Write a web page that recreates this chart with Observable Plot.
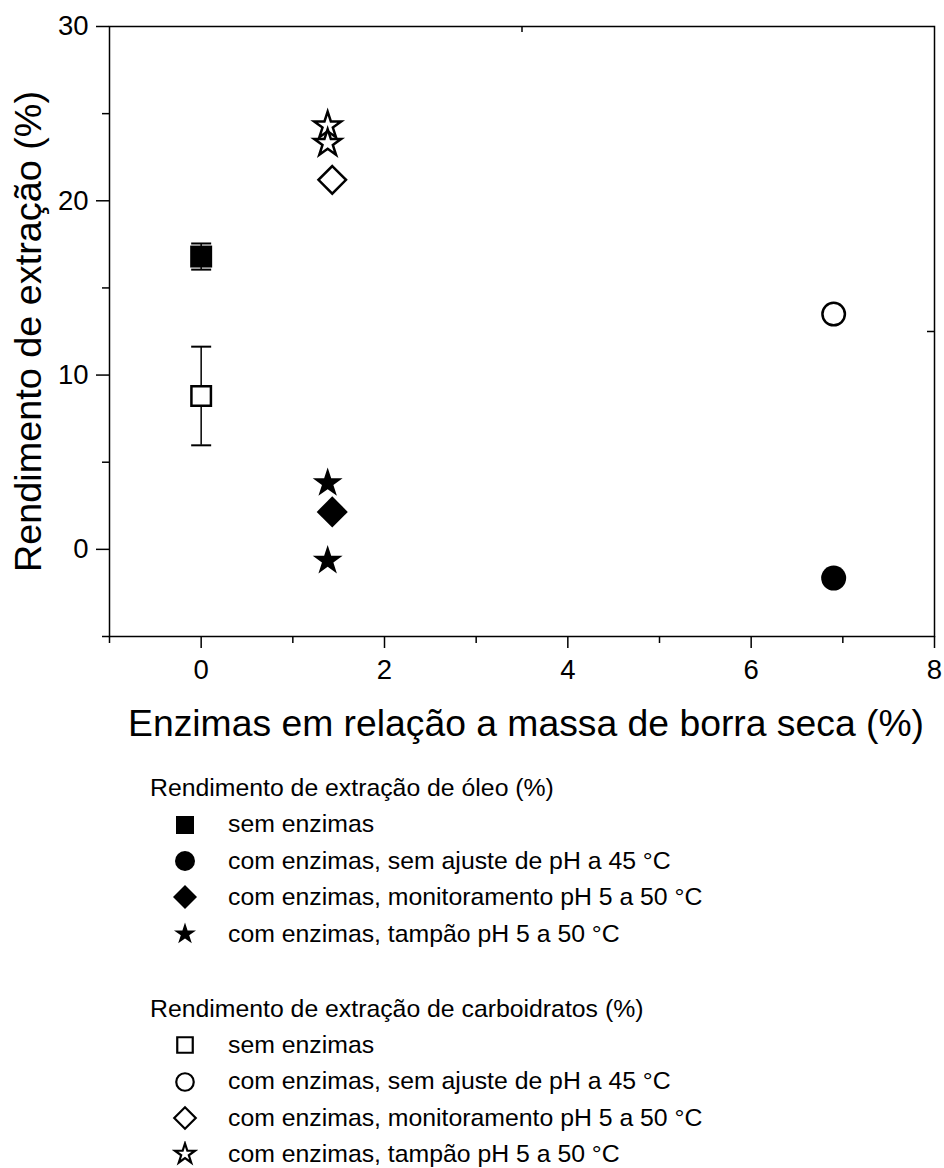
<!DOCTYPE html>
<html>
<head>
<meta charset="utf-8">
<script src="https://cdn.jsdelivr.net/npm/d3@7"></script>
<script src="https://cdn.jsdelivr.net/npm/@observablehq/plot@0.6"></script>
<style>
  body { margin: 0; background: #fff; font-family: "Liberation Sans", Arial, sans-serif; color: #000; }
  #legend { padding: 20px 0 0 150px; font-size: 24.8px; line-height: 36.4px; }
  #legend .group + .group { margin-top: 38.7px; }
  #legend .row { display: flex; align-items: center; height: 36.4px; white-space: nowrap; }
  #legend .row svg { margin-left: 22px; margin-right: 30px; flex: none; }
</style>
</head>
<body>
<div id="chart"></div>
<div id="legend"></div>
<script>
// Enzyme-assisted extraction yields versus enzyme load
const conditions = [
  "sem enzimas",
  "com enzimas, sem ajuste de pH a 45 °C",
  "com enzimas, monitoramento pH 5 a 50 °C",
  "com enzimas, tampão pH 5 a 50 °C"
];
const seriesTitles = [
  "Rendimento de extração de óleo (%)",
  "Rendimento de extração de carboidratos (%)"
];

// one entry per experiment
const enzymeLoad = [0, 6.9, 1.43, 1.38, 1.38];      // % of dry spent grounds
const conditionOf = [0, 1, 2, 3, 3];
const oilYield = [16.8, -1.65, 2.15, 3.8, -0.65];
const oilError = [0.75, 0, 0, 0, 0];
const carbYield = [8.8, 13.5, 21.2, 24.3, 23.3];
const carbError = [2.83, 0, 0, 0, 0];

// axes
const xTitle = "Enzimas em relação a massa de borra seca (%)";
const yTitle = "Rendimento de extração (%)";
const xMajorTicks = [0, 2, 4, 6, 8];
const xMinorTicks = [-1, 1, 3, 5, 7];
const yMajorTicks = [0, 10, 20, 30];
const yMinorTicks = [-5, 5, 15, 25];
const topTicks = [3.5];
const rightTicks = [12.5];

// marker appearance per condition
const symbols = ["square", "circle", "diamond2", "star"];
const filledR = [12.4, 12.5, 14, 9.4];
const openR = [11, 11.25, 12.4, 8.5];

const oil = enzymeLoad.map((x, i) => ({x, y: oilYield[i], e: oilError[i], c: conditionOf[i]}));
const carb = enzymeLoad.map((x, i) => ({x, y: carbYield[i], e: carbError[i], c: conditionOf[i]}));
const withError = [...oil, ...carb].filter(d => d.e > 0);

// horizontal error-bar cap
const cap = {
  draw(context, size) {
    const w = Math.sqrt(size / Math.PI);
    context.moveTo(-w, 0);
    context.lineTo(w, 0);
  }
};

const W = 944, H = 750;
const mL = 109, mR = 10, mT = 26, mB = 114;
const frameW = W - mL - mR, frameH = H - mT - mB;
const tickFont = 27.5;

const dotMarks = [];
symbols.forEach((s, k) => {
  dotMarks.push(Plot.dot(carb.filter(d => d.c === k), {
    x: "x", y: "y", symbol: s, r: openR[k], fill: "#fff", stroke: "#000", strokeWidth: 2.5
  }));
});
symbols.forEach((s, k) => {
  dotMarks.push(Plot.dot(oil.filter(d => d.c === k), {
    x: "x", y: "y", symbol: s, r: filledR[k], fill: "#000", stroke: "none"
  }));
});

const chart = Plot.plot({
  width: W,
  height: H,
  marginLeft: mL,
  marginRight: mR,
  marginTop: mT,
  marginBottom: mB,
  style: {fontFamily: "'Liberation Sans', Arial, sans-serif", fontSize: tickFont + "px", background: "#fff", color: "#000", overflow: "visible"},
  x: {domain: [-1, 8]},
  y: {domain: [-5, 30]},
  marks: [
    Plot.frame({stroke: "#000", strokeWidth: 1.5}),
    Plot.axisX(xMajorTicks, {tickSize: 12, tickPadding: 11, fontSize: tickFont, strokeWidth: 1.5, label: null}),
    Plot.axisX(xMinorTicks, {tickSize: 7, tickFormat: () => "", strokeWidth: 1.5, label: null}),
    Plot.axisY(yMajorTicks, {tickSize: 13, tickPadding: 8, fontSize: tickFont, strokeWidth: 1.5, label: null}),
    Plot.axisY(yMinorTicks, {tickSize: 7, tickFormat: () => "", strokeWidth: 1.5, label: null}),
    Plot.ruleX(topTicks, {insetBottom: frameH - 6, stroke: "#000", strokeWidth: 1.5}),
    Plot.ruleY(rightTicks, {insetLeft: frameW - 7, stroke: "#000", strokeWidth: 1.5}),
    Plot.text([xTitle], {frameAnchor: "bottom", textAnchor: "middle", lineAnchor: "middle", dy: 88, dx: 4, fontSize: 37.3, fill: "#000"}),
    Plot.text([yTitle], {frameAnchor: "left", textAnchor: "middle", lineAnchor: "middle", rotate: -90, dx: -80.5, fontSize: 37.8, fill: "#000"}),
    Plot.ruleX(withError, {x: "x", y1: d => d.y - d.e, y2: d => d.y + d.e, stroke: "#000", strokeWidth: 1.5}),
    Plot.dot(withError, {x: "x", y: d => d.y + d.e, symbol: cap, r: 10, stroke: "#000", strokeWidth: 2, fill: "none"}),
    Plot.dot(withError, {x: "x", y: d => d.y - d.e, symbol: cap, r: 10, stroke: "#000", strokeWidth: 2, fill: "none"}),
    ...dotMarks
  ]
});
document.getElementById("chart").appendChild(chart);

// legend: two groups, filled markers for oil, open markers for carbohydrates
const legendSize = {
  square: w => w * w,
  circle: w => Math.PI * (w / 2) ** 2,
  diamond2: w => (w / 2 / 0.62625) ** 2,
  star: w => (w / 1.902) ** 2 / 0.8908130915292852
};
const legendFilledW = [18, 20, 24, 22];
const legendOpenW = [15.5, 17.5, 21.5, 20];
const symbolTypes = {square: d3.symbolSquare, circle: d3.symbolCircle, diamond2: d3.symbolDiamond2, star: d3.symbolStar};

const legend = d3.select("#legend");
seriesTitles.forEach((title, g) => {
  const group = legend.append("div").attr("class", "group");
  group.append("div").attr("class", "row").text(title);
  conditions.forEach((label, k) => {
    const row = group.append("div").attr("class", "row");
    const svg = row.append("svg").attr("width", 26).attr("height", 26).attr("viewBox", "-13 -13 26 26");
    const name = symbols[k];
    const w = g === 0 ? legendFilledW[k] : legendOpenW[k];
    const path = svg.append("path").attr("d", d3.symbol(symbolTypes[name], legendSize[name](w))());
    if (g === 0) path.attr("fill", "#000");
    else path.attr("fill", "#fff").attr("stroke", "#000").attr("stroke-width", 2.2);
    row.append("span").text(label);
  });
});
</script>
</body>
</html>
